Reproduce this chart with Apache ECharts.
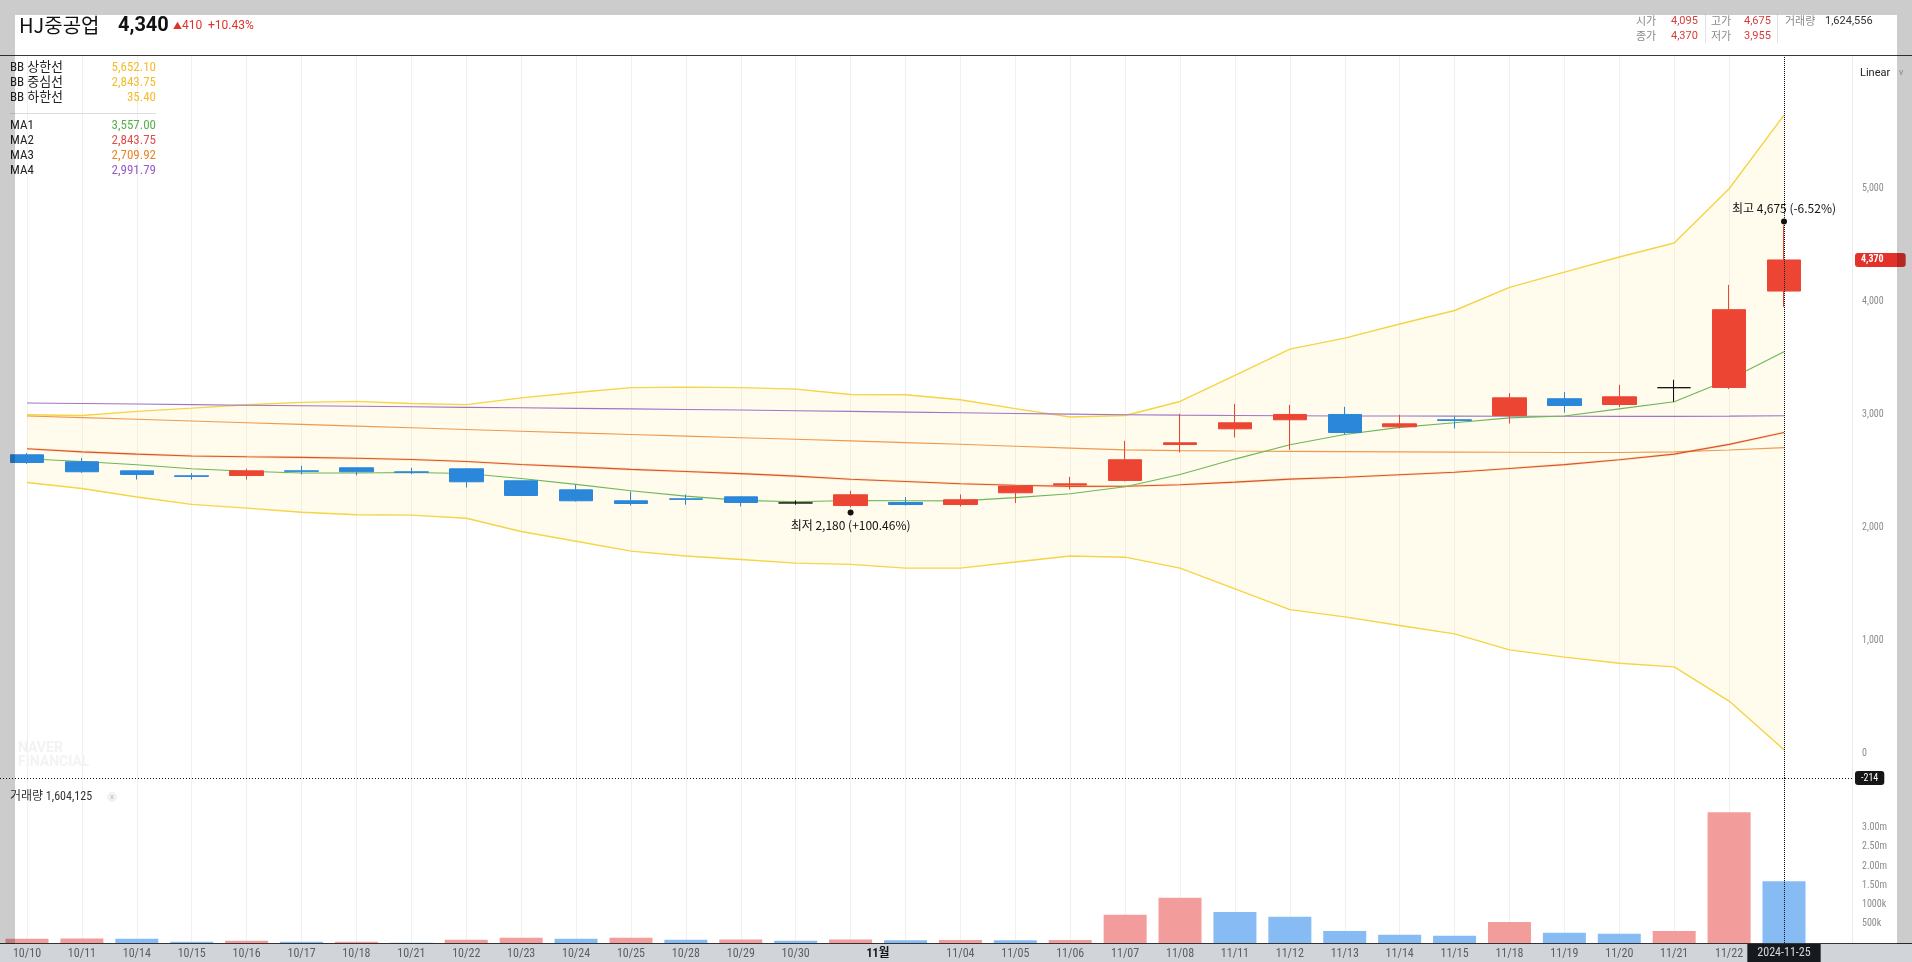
<!DOCTYPE html>
<html><head><meta charset="utf-8">
<script src="https://cdn.jsdelivr.net/npm/echarts@6/dist/echarts.min.js"></script>
<style>html,body{margin:0;padding:0;background:#fff;overflow:hidden}#c{width:1912px;height:962px}</style>
</head><body><div id="c"></div>
<script>
// ---------------- data ----------------
const dates = ['10/10','10/11','10/14','10/15','10/16','10/17','10/18','10/21','10/22','10/23','10/24','10/25','10/28','10/29','10/30','10/31','11/01','11/04','11/05','11/06','11/07','11/08','11/11','11/12','11/13','11/14','11/15','11/18','11/19','11/20','11/21','11/22','11/25'];
const openP  = [2646,2584,2504,2460,2463,2504,2531,2495,2522,2416,2336,2239,2256,2274,2220,2197,2224,2206,2310,2378,2419,2737,2876,2956,3003,2894,2956,2994,3142,3091,3240,3242,4095];
const closeP = [2578,2496,2472,2455,2504,2500,2496,2491,2407,2286,2239,2215,2252,2224,2220,2292,2206,2248,2369,2389,2602,2752,2929,3003,2843,2920,2950,3150,3082,3159,3240,3930,4370];
const lowP   = [2566,2487,2427,2427,2427,2472,2463,2475,2357,2283,2233,2197,2204,2189,2204,2180,2197,2189,2219,2339,2410,2666,2799,2690,2829,2879,2879,2923,3020,3068,3115,3227,3955];
const highP  = [2661,2617,2504,2484,2522,2549,2531,2531,2525,2416,2381,2321,2295,2276,2242,2327,2272,2295,2372,2451,2770,3009,3097,3088,3071,3000,2985,3192,3201,3265,3310,4150,4675];
const volume = [111000,115000,108000,33000,59000,33000,35000,8000,85000,137000,111000,137000,82000,88000,59000,88000,72000,78000,74000,77000,734000,1175000,803000,682000,310000,215000,189000,543000,266000,240000,310000,3400000,1604125];
const ma1 = [2611,2587,2558,2522,2501,2485,2485,2489,2480,2436,2384,2328,2280,2243,2230,2241,2239,2238,2267,2301,2363,2472,2608,2735,2826,2889,2929,2973,2989,3052,3116,3312,3557.00];
const ma2 = [2700,2672,2652,2636,2629,2623,2616,2605,2587,2560,2539,2517,2498,2479,2457,2430,2410,2390,2377,2367,2368,2381,2404,2431,2448,2469,2492,2525,2559,2602,2652,2738,2843.75];
const ma3 = [2990,2975,2960,2945,2930,2915,2900,2885,2870,2855,2840,2826,2811,2797,2783,2769,2754,2739,2722,2705,2690,2683,2679,2676,2674,2672,2670,2668,2666,2667,2672,2688,2709.92];
const ma4 = [3105,3100,3095,3090,3085,3080,3076,3071,3066,3062,3057,3052,3047,3042,3036,3030,3024,3018,3012,3006,3001,2997,2994,2992,2990,2989,2988,2987,2987,2986,2986,2988,2991.79];
const bbUpper = [3000,2994,3030,3059,3089,3110,3119,3100,3090,3150,3197,3240,3245,3240,3227,3180,3177,3133,3055,2980,2994,3118,3348,3581,3679,3803,3923,4127,4263,4396,4520,5000,5652.10];
const bbMid = ma2;
const bbLower = [2401,2348,2272,2207,2174,2138,2115,2112,2085,1967,1881,1794,1751,1719,1687,1676,1643,1643,1697,1751,1740,1643,1460,1276,1212,1136,1061,920,856,802,769,467,35.40];
const priceTicks = [0,1000,2000,3000,4000,5000];
const volTicks = [500000,1000000,1500000,2000000,2500000,3000000];
const stockName = 'HJ중공업';
const headPrice = '4,340', headChange = '410', headRate = '+10.43%';
const headInfo = {open:'4,095', high:'4,675', close:'4,370', low:'3,955', vol:'1,624,556'};
const pointerDate = '2024-11-25';
const pointerPrice = -214;

// ---------------- styles ----------------
const NARROW = "'Liberation Sans Narrow','Arial Narrow','Roboto Condensed','Noto Sans CJK KR',sans-serif";
const KR = "'Noto Sans CJK KR','Noto Sans',sans-serif";
const ROBO = "Roboto,'Noto Sans CJK KR',sans-serif";
const UP = '#ec4533', DOWN = '#2a87da';
const UPV = '#f29c9c', DOWNV = '#86bbf4';
const N = dates.length;

const fmt2 = v => v.toLocaleString('en-US',{minimumFractionDigits:2, maximumFractionDigits:2});
const fmt0 = v => v.toLocaleString('en-US');

const candleData = dates.map((d,i)=>[openP[i], closeP[i], lowP[i], highP[i]]);
const band = bbUpper.map((u,i)=> +(u - bbLower[i]).toFixed(2));
const volData = volume.map((v,i)=>({value:v, itemStyle:{color: (i===0 || v >= volume[i-1]) ? UPV : DOWNV}}));

let hiIdx = 0, loIdx = 0;
highP.forEach((v,i)=>{ if (v > highP[hiIdx]) hiIdx = i; });
lowP.forEach((v,i)=>{ if (v < lowP[loIdx]) loIdx = i; });
const lastClose = closeP[N-1];
const pct = (a,b)=> { const p = (a-b)/b*100; return (p>=0?'+':'') + p.toFixed(2) + '%'; };

function lineS(data, color, width, z, extra){
  return Object.assign({type:'line', data, xAxisIndex:0, yAxisIndex:0, symbol:'none', silent:true, z,
    lineStyle:{color, width}, emphasis:{disabled:true}}, extra||{});
}

function T(x, y, text, o){
  o = o || {};
  return {type:'text', x, y, z: o.z || 60, silent:true, style:{text, fill:o.fill||'#222',
    fontSize:o.size||12, fontFamily:o.family||KR, fontWeight:o.weight||'normal',
    textAlign:o.align||'left', textVerticalAlign:'middle'}};
}

// legend rows
const legendRows = [
  ['BB 상한선', bbUpper[N-1], '#f2bd2c', 67.5],
  ['BB 중심선', bbMid[N-1], '#f2bd2c', 82.7],
  ['BB 하한선', bbLower[N-1], '#f2bd2c', 97.9],
  ['MA1', ma1[N-1], '#58b04a', 125.6],
  ['MA2', ma2[N-1], '#e14d4d', 140.8],
  ['MA3', ma3[N-1], '#e8852c', 156.0],
  ['MA4', ma4[N-1], '#9b59c8', 171.2]
];

const graphics = [];
legendRows.forEach(r=>{
  graphics.push(T(10, r[3], r[0], {size:13, family:NARROW, fill:'#222'}));
  graphics.push(T(156, r[3], fmt2(r[1]), {size:13, family:NARROW, fill:r[2], align:'right'}));
});
graphics.push({type:'line', z:60, silent:true, shape:{x1:10,y1:113.5,x2:156,y2:113.5}, style:{stroke:'#dddddd', lineWidth:1}});

// header
graphics.push(T(19, 25, stockName, {size:20, family:KR, fill:'#111'}));
graphics.push(T(118, 26, headPrice, {size:20, family:ROBO, weight:'bold', fill:'#111'}));
graphics.push(T(173, 26, '▲', {size:9, family:KR, fill:'#e0322d'}));
graphics.push(T(182, 26, headChange, {size:12, family:ROBO, fill:'#e0322d'}));
graphics.push(T(208, 26, headRate, {size:12, family:ROBO, fill:'#e0322d'}));

const hl = '#8a8a8a', hv = '#d93a3a';
graphics.push(T(1636, 21, '시가', {size:11, fill:hl}));
graphics.push(T(1671, 21, headInfo.open, {size:11, family:ROBO, fill:hv}));
graphics.push(T(1636, 36, '종가', {size:11, fill:hl}));
graphics.push(T(1671, 36, headInfo.close, {size:11, family:ROBO, fill:hv}));
graphics.push(T(1711, 21, '고가', {size:11, fill:hl}));
graphics.push(T(1744, 21, headInfo.high, {size:11, family:ROBO, fill:hv}));
graphics.push(T(1711, 36, '저가', {size:11, fill:hl}));
graphics.push(T(1744, 36, headInfo.low, {size:11, family:ROBO, fill:hv}));
graphics.push(T(1785, 21, '거래량', {size:11, fill:hl}));
graphics.push(T(1825, 21, headInfo.vol, {size:11, family:ROBO, fill:'#333'}));
graphics.push({type:'line', z:60, silent:true, shape:{x1:1705.5,y1:14,x2:1705.5,y2:43}, style:{stroke:'#e2e2e2', lineWidth:1}});
graphics.push({type:'line', z:60, silent:true, shape:{x1:1777.5,y1:14,x2:1777.5,y2:43}, style:{stroke:'#e2e2e2', lineWidth:1}});

// separators
graphics.push({type:'line', z:60, silent:true, shape:{x1:0,y1:55.5,x2:1912,y2:55.5}, style:{stroke:'#3a3a3a', lineWidth:1}});
graphics.push({type:'line', z:60, silent:true, shape:{x1:0,y1:778.5,x2:1852,y2:778.5}, style:{stroke:'#111', lineWidth:1, lineDash:[1,2]}});
graphics.push({type:'line', z:60, silent:true, shape:{x1:0,y1:943.5,x2:1912,y2:943.5}, style:{stroke:'#333', lineWidth:1}});

// misc texts
graphics.push(T(1860, 73, 'Linear', {size:11, family:ROBO, fill:'#222'}));
graphics.push(T(1899, 73, 'v', {size:9, family:ROBO, fill:'#aaa'}));
graphics.push(T(18, 748, 'NAVER', {size:14, family:ROBO, weight:'bold', fill:'#f3f3f3', z:1}));
graphics.push(T(18, 762, 'FINANCIAL', {size:14, family:ROBO, weight:'bold', fill:'#f3f3f3', z:1}));
graphics.push(T(10, 797, '거래량 ' + fmt0(volume[N-1]), {size:12, family:NARROW, fill:'#333'}));
graphics.push({type:'circle', z:60, silent:true, shape:{cx:112, cy:797, r:5}, style:{fill:'#f2f2f2'}});
graphics.push(T(112, 797, 'x', {size:8, family:ROBO, fill:'#bbbbbb', align:'center'}));

// frame overlay
const frame = 'rgba(0,0,0,0.2)';
graphics.push({type:'rect', z:300, silent:true, shape:{x:0,y:0,width:1912,height:15}, style:{fill:frame}});
graphics.push({type:'rect', z:300, silent:true, shape:{x:0,y:15,width:15,height:929}, style:{fill:frame}});
graphics.push({type:'rect', z:300, silent:true, shape:{x:1897,y:15,width:15,height:929}, style:{fill:frame}});
graphics.push({type:'rect', z:300, silent:true, shape:{x:0,y:944,width:1912,height:18}, style:{fill:'rgba(25,40,65,0.2)'}});

const xLabelFmt = (v, i) => {
  if (i === 15) return '';
  if (i === 16) return '{m|11월}';
  return v;
};

const option = {
  animation: false,
  backgroundColor: '#ffffff',
  grid: [
    {left: 27, width: 1757, top: 56, height: 722},
    {left: 27, width: 1757, top: 778, height: 165}
  ],
  xAxis: [
    {type:'category', gridIndex:0, data:dates, boundaryGap:false,
      axisLine:{show:false}, axisTick:{show:false}, axisLabel:{show:false},
      splitLine:{show:true, lineStyle:{color:'#f0f0f0', width:1}},
      axisPointer:{show:true, type:'line', value:N-1, status:'show', snap:false, triggerTooltip:false, z:60,
        lineStyle:{color:'#111', type:'dotted', width:1}, label:{show:false}}},
    {type:'category', gridIndex:1, data:dates, boundaryGap:false,
      axisLine:{show:false}, axisTick:{show:false},
      axisLabel:{interval:0, formatter:xLabelFmt, color:'#6e6e6e', fontSize:12, fontFamily:NARROW, margin:5,
        rich:{m:{fontWeight:'bold', color:'#111', fontSize:12, fontFamily:NARROW, padding:[0,55,0,0]}}},
      splitLine:{show:true, lineStyle:{color:'#f0f0f0', width:1}},
      axisPointer:{show:true, type:'line', value:N-1, status:'show', snap:false, triggerTooltip:false, z:60,
        lineStyle:{color:'#111', type:'dotted', width:1},
        label:{show:true, formatter:()=>pointerDate, backgroundColor:'#161616', color:'#ffffff',
          fontSize:12, fontFamily:NARROW, padding:[3,10,3,10], margin:1, borderRadius:0}}}
  ],
  yAxis: [
    {type:'value', gridIndex:0, min:pointerPrice, max:6175, splitNumber:6, position:'right', offset:68, scale:false,
      axisLine:{show:true, lineStyle:{color:'#ececec'}}, axisTick:{show:false}, splitLine:{show:false},
      axisLabel:{formatter:v => priceTicks.indexOf(v) >= 0 ? fmt0(v) : '', color:'#8c8c8c', fontSize:10, fontFamily:NARROW, margin:10},
      axisPointer:{show:true, value:pointerPrice, status:'show', triggerTooltip:false, lineStyle:{opacity:0},
        label:{show:true, formatter:p => String(Math.round(p.value)), backgroundColor:'#161616', color:'#fff',
          fontSize:10, fontFamily:NARROW, padding:[2,6,2,6], margin:3}}},
    {type:'value', gridIndex:0, min:pointerPrice, max:6175, position:'right', offset:68,
      axisLine:{show:false}, axisTick:{show:false}, splitLine:{show:false}, axisLabel:{show:false},
      axisPointer:{show:true, value:lastClose, status:'show', triggerTooltip:false, lineStyle:{opacity:0},
        label:{show:true, formatter:p => fmt0(Math.round(p.value)), backgroundColor:'#e3312c', color:'#fff',
          fontSize:10, fontFamily:NARROW, fontWeight:'bold', padding:[2,22,2,6], margin:3}}},
    {type:'value', gridIndex:1, min:0, max:4290000, interval:500000, position:'right', offset:68,
      axisLine:{show:true, lineStyle:{color:'#ececec'}}, axisTick:{show:false}, splitLine:{show:false},
      axisLabel:{formatter:v => volTicks.indexOf(v) < 0 ? '' : (v >= 1500000 ? (v/1e6).toFixed(2)+'m' : (v/1000)+'k'),
        color:'#8c8c8c', fontSize:10, fontFamily:NARROW, margin:10}}
  ],
  series: [
    {type:'line', data:bbLower, stack:'bb', xAxisIndex:0, yAxisIndex:0, symbol:'none', silent:true, z:1,
      lineStyle:{opacity:0}, emphasis:{disabled:true}},
    {type:'line', data:band, stack:'bb', xAxisIndex:0, yAxisIndex:0, symbol:'none', silent:true, z:1,
      lineStyle:{opacity:0}, areaStyle:{color:'rgba(255,233,150,0.24)'}, emphasis:{disabled:true}},
    lineS(bbUpper, '#f5d445', 1.4, 2),
    lineS(bbLower, '#f5d445', 1.4, 2),
    lineS(bbMid, 'rgba(245,200,90,0.35)', 2.6, 2),
    lineS(ma4, '#a075c6', 1.1, 3),
    lineS(ma3, '#ee9a4e', 1.1, 3),
    lineS(ma2, '#db5038', 1.1, 3),
    lineS(ma1, '#6cb857', 1.1, 3),
    {type:'candlestick', xAxisIndex:0, yAxisIndex:0, data:candleData, barWidth:34, clip:false, z:5, silent:true,
      itemStyle:{color:UP, color0:DOWN, borderColor:UP, borderColor0:DOWN, borderColorDoji:'#111', borderWidth:1},
      markPoint:{silent:true, symbol:'circle', symbolSize:6, itemStyle:{color:'#111'},
        data:[
          {coord:[hiIdx, highP[hiIdx]], symbolOffset:[0,-4],
            label:{show:true, position:'top', distance:4, color:'#111', fontSize:12, fontFamily:KR,
              formatter:'최고 ' + fmt0(highP[hiIdx]) + ' (' + pct(lastClose, highP[hiIdx]) + ')'}},
          {coord:[loIdx, lowP[loIdx]], symbolOffset:[0,5],
            label:{show:true, position:'bottom', distance:4, color:'#111', fontSize:12, fontFamily:KR,
              formatter:'최저 ' + fmt0(lowP[loIdx]) + ' (' + pct(lastClose, lowP[loIdx]) + ')'}}
        ]}},
    {type:'bar', xAxisIndex:1, yAxisIndex:2, data:volData, barWidth:43, clip:false, silent:true, z:2}
  ],
  graphic: graphics
};

const chart = echarts.init(document.getElementById('c'), null, {renderer:'canvas'});
chart.setOption(option);
</script>
</body></html>
